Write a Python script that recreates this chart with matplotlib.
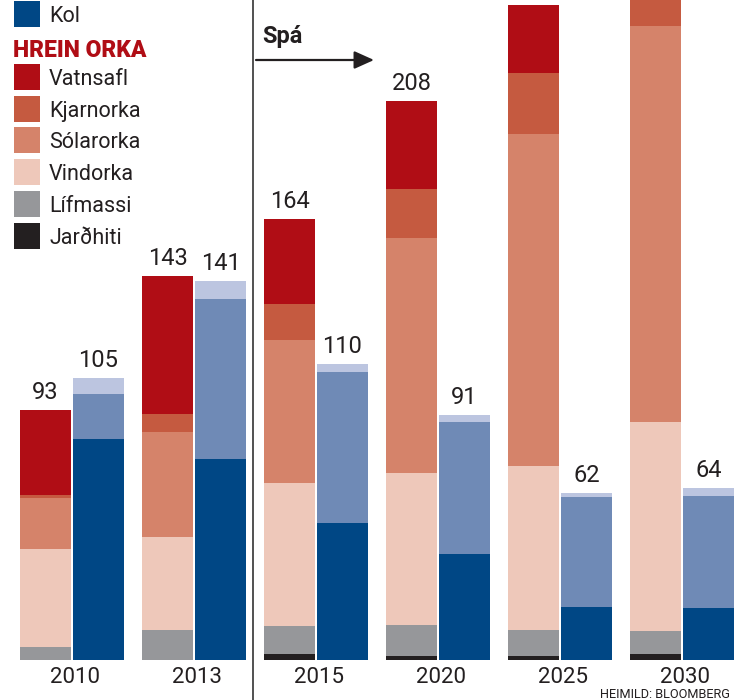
import matplotlib
matplotlib.use('Agg')
import matplotlib.pyplot as plt
from matplotlib.patches import Rectangle, FancyArrowPatch
from matplotlib.lines import Line2D
from matplotlib import font_manager
import numpy as np

# ---------------- data ----------------
years = ['2010', '2013', '2015', '2020', '2025', '2030']
# Clean energy (HREIN ORKA), stacked bottom to top
jardhiti  = [0.0, 0.0, 2.2, 1.5, 1.5, 2.2]
lifmassi  = [4.8, 11.0, 10.4, 11.5, 9.7, 8.6]
vindorka  = [36.5, 34.6, 53.3, 56.5, 61.0, 77.8]
solarorka = [19.0, 39.3, 53.3, 87.6, 123.6, 147.4]
kjarnorka = [1.2, 6.6, 13.3, 18.2, 22.7, 24.0]
vatnsafl  = [31.5, 51.5, 31.5, 32.7, 25.3, 30.0]
clean_totals = [93, 143, 164, 208, None, None]
# Fossil, stacked bottom to top
kol  = [82.4, 74.8, 51.1, 39.6, 19.8, 19.5]
gas  = [16.6, 59.5, 55.9, 49.1, 40.7, 41.6]
olia = [6.0, 6.7, 3.0, 2.3, 1.5, 2.9]
fossil_totals = [105, 141, 110, 91, 62, 64]

clean_series = [('Jarðhiti', jardhiti), ('Lífmassi', lifmassi), ('Vindorka', vindorka),
                ('Sólarorka', solarorka), ('Kjarnorka', kjarnorka), ('Vatnsafl', vatnsafl)]
fossil_series = [('Kol', kol), ('Gas', gas), ('Olía', olia)]

colors = {
    'Vatnsafl': '#b00d15', 'Kjarnorka': '#c55a40', 'Sólarorka': '#d5836a',
    'Vindorka': '#eec8ba', 'Lífmassi': '#96979a', 'Jarðhiti': '#231f20',
    'Kol': '#004785', 'Gas': '#6f8ab6', 'Olía': '#bcc5e0',
}
TXT = '#231f20'

# ---------------- fonts ----------------
avail = {f.name for f in font_manager.fontManager.ttflist}
fam = [f for f in ['Roboto', 'Noto Sans', 'DejaVu Sans'] if f in avail]
plt.rcParams['font.family'] = fam

W, H = 734, 700
fig = plt.figure(figsize=(W / 100, H / 100), dpi=100)
ax = fig.add_axes([0, 40 / H, 1, 660 / H])
ax.set_xlim(-0.59, 5.426)
ax.set_ylim(0, 245.6)
ax.axis('off')

x = np.arange(len(years))
w = 0.418
g = 0.008

bottom = np.zeros(len(years))
for name, vals in clean_series:
    ax.bar(x - g - w, vals, w, bottom=bottom, align='edge', color=colors[name], linewidth=0)
    bottom += np.array(vals)
bottom = np.zeros(len(years))
for name, vals in fossil_series:
    ax.bar(x + g, vals, w, bottom=bottom, align='edge', color=colors[name], linewidth=0)
    bottom += np.array(vals)

for i in range(len(years)):
    if clean_totals[i] is not None:
        ax.annotate(str(clean_totals[i]), xy=(x[i] - g - w / 2, clean_totals[i]), xytext=(0, 8),
                    textcoords='offset points', ha='center', va='baseline', fontsize=17,
                    color=TXT, annotation_clip=False)
    ax.annotate(str(fossil_totals[i]), xy=(x[i] + g + w / 2, fossil_totals[i]), xytext=(0, 8),
                textcoords='offset points', ha='center', va='baseline', fontsize=17,
                color=TXT, annotation_clip=False)
    ax.annotate(years[i], xy=(x[i] + 0.025, 0), xytext=(0, -16.6), textcoords='offset points',
                ha='center', va='baseline', fontsize=16, color=TXT, annotation_clip=False)

# ---------------- helpers for figure pixel layout ----------------
def fx(px):
    return px / W

def fy(py):
    return 1 - py / H

# legend
def legend_item(label, center_y):
    fig.add_artist(Rectangle((fx(14), fy(center_y + 13)), 26 / W, 26 / H,
                             transform=fig.transFigure, color=colors[label], linewidth=0))
    fig.text(fx(49), fy(center_y + 8), label, ha='left', va='baseline', fontsize=15.5, color=TXT)

legend_item('Kol', 14)
fig.text(fx(13), fy(57), 'HREIN ORKA', ha='left', va='baseline', fontsize=16.5,
         fontweight='black', color='#b00d15')
for lab, cy in [('Vatnsafl', 77), ('Kjarnorka', 109), ('Sólarorka', 140),
                ('Vindorka', 172), ('Lífmassi', 204), ('Jarðhiti', 236)]:
    legend_item(lab, cy)

# forecast divider
fig.add_artist(Line2D([fx(253), fx(253)], [0, 1], transform=fig.transFigure,
                      color='#333333', lw=1.2))
fig.text(fx(262), fy(43), 'Spá', ha='left', va='baseline', fontsize=17,
         fontweight='bold', color=TXT)
fig.add_artist(FancyArrowPatch(
    (256, H - 60), (374, H - 60), transform=None,
    arrowstyle='-|>,head_length=1.0,head_width=0.45', mutation_scale=12,
    lw=1.6, color=TXT, shrinkA=0, shrinkB=0))

fig.text(fx(730), fy(697.5), 'HEIMILD: BLOOMBERG', ha='right', va='baseline',
         fontsize=9.2, color=TXT)

fig.savefig('out.png', dpi=100)
